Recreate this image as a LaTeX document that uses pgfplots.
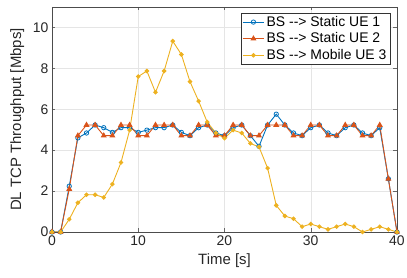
\documentclass[border=0pt]{standalone}
\usepackage{fontspec}
\setmainfont{Liberation Sans}
\usepackage{pgfplots}
\pgfplotsset{compat=1.18}
\definecolor{mblue}{RGB}{0,114,189}
\definecolor{morange}{RGB}{217,83,25}
\definecolor{myellow}{RGB}{237,177,32}
\begin{document}
\begin{tikzpicture}
\begin{axis}[
  scale only axis,
  width=345bp, height=225bp,
  xmin=0, xmax=40, ymin=0, ymax=11,
  xtick={0,10,20,30,40}, ytick={0,2,4,6,8,10},
  tick align=inside,
  tick style={color=gray!80!black},
  major tick length=3.5bp,
  grid=major,
  grid style={color=gray!20, line width=0.4pt},
  axis line style={color=gray!60!black},
  /pgf/number format/assume math mode=true,
  tick label style={font=\fontsize{14}{16}\selectfont, color=black!85},
  label style={font=\fontsize{15}{17}\selectfont, color=black!85},
  xlabel={Time [s]},
  ylabel={DL TCP Throughput [Mbps]},
  xlabel style={at={(axis description cs:0.5,-0.129)}, anchor=center},
  ylabel style={at={(axis description cs:-0.101,0.5)}, anchor=center},
  legend cell align=left,
  legend style={at={(0.98,0.975)}, anchor=north east, font=\fontsize{14}{16}\selectfont, draw=black!80, inner sep=1.5pt, row sep=1pt},
  legend image code/.code={\draw[mark repeat=2,mark phase=2] plot coordinates {(0cm,0cm) (0.38cm,0cm) (0.76cm,0cm)};},
  every axis plot/.append style={line width=0.9pt},
]
\addplot[color=mblue, mark=o, mark size=2.2pt, mark options={line width=0.8pt}] coordinates {
(0,0)(1,0)(2,2.24)(3,4.6)(4,4.84)(5,5.23)(6,5.1)(7,4.87)(8,5.1)(9,5.1)(10,4.87)
(11,4.98)(12,5.1)(13,5.1)(14,5.23)(15,4.87)(16,4.71)(17,5.1)(18,5.23)(19,4.84)(20,4.71)
(21,5.1)(22,5.23)(23,4.71)(24,4.19)(25,5.23)(26,5.76)(27,5.23)(28,4.84)(29,4.71)(30,5.1)
(31,5.23)(32,4.84)(33,4.71)(34,5.1)(35,5.23)(36,4.84)(37,4.71)(38,5.1)(39,2.6)(40,0)};
\addlegendentry{BS -{}-{}> Static UE 1}
\addplot[color=morange, mark=triangle*, mark size=2.6pt] coordinates {
(0,0)(1,0)(2,2.1)(3,4.71)(4,5.23)(5,5.23)(6,4.71)(7,4.71)(8,5.23)(9,5.23)(10,4.71)
(11,4.71)(12,5.23)(13,5.23)(14,5.23)(15,4.71)(16,4.71)(17,5.23)(18,5.23)(19,4.71)(20,4.71)
(21,5.23)(22,5.23)(23,4.71)(24,4.71)(25,5.23)(26,5.23)(27,5.23)(28,4.71)(29,4.71)(30,5.23)
(31,5.23)(32,4.71)(33,4.71)(34,5.23)(35,5.23)(36,4.71)(37,4.71)(38,5.23)(39,2.6)(40,0)};
\addlegendentry{BS -{}-{}> Static UE 2}
\addplot[color=myellow, mark=*, mark size=1.8pt] coordinates {
(0,0)(1,0)(2,0.62)(3,1.43)(4,1.82)(5,1.82)(6,1.69)(7,2.34)(8,3.4)(9,4.98)(10,7.6)
(11,7.87)(12,6.83)(13,7.87)(14,9.33)(15,8.68)(16,7.35)(17,6.4)(18,5.37)(19,4.84)(20,4.59)
(21,4.98)(22,4.84)(23,4.33)(24,4.16)(25,3.12)(26,1.3)(27,0.78)(28,0.65)(29,0.26)(30,0.39)
(31,0.26)(32,0.13)(33,0.26)(34,0.39)(35,0.26)(36,0)(37,0.13)(38,0.26)(39,0.13)(40,0)};
\addlegendentry{BS -{}-{}> Mobile UE 3}
\coordinate (o) at (rel axis cs:0,0);
\end{axis}
\pgfresetboundingbox
\path (o) ++(-52bp,-46bp) rectangle ++(407bp,278bp);
\end{tikzpicture}
\end{document}
